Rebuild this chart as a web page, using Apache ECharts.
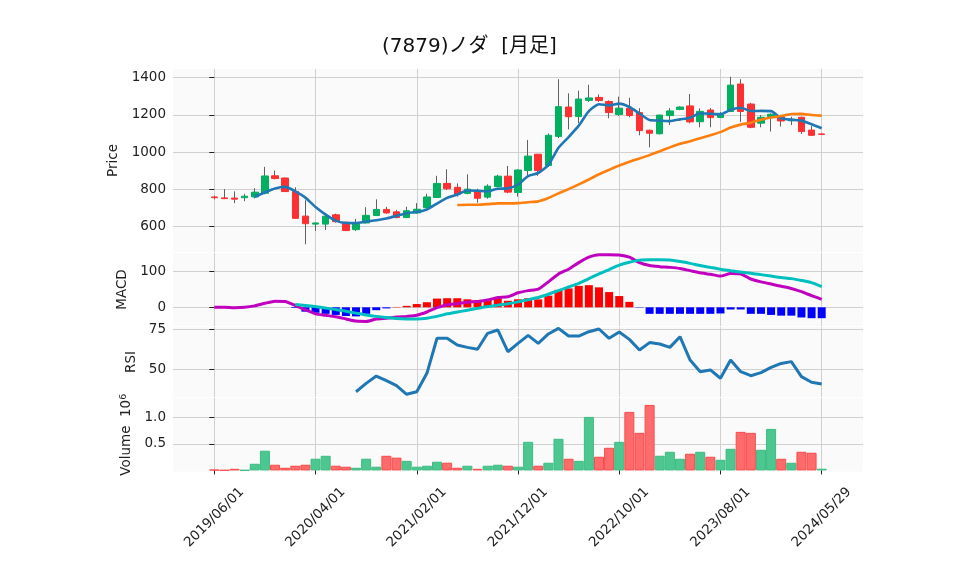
<!DOCTYPE html>
<html><head><meta charset="utf-8">
<script src="https://cdn.jsdelivr.net/npm/echarts@6/dist/echarts.min.js"></script>
<style>html,body{margin:0;padding:0;background:#fff}#c{width:958px;height:575px}</style>
</head><body><div id="c"></div>
<script>
// ---- data (monthly, index 0 = 2019/06) ----
const xTickPos = [0, 10, 20, 30, 40, 50, 60];
const xTickLabels = ['2019/06/01','2020/04/01','2021/02/01','2021/12/01','2022/10/01','2023/08/01','2024/05/29'];
const opens  = [758,753,752,754,758,778,872,860,788,655,612,612,662,622,582,618,658,691,678,647,672,700,755,831,810,777,787,757,814,870,782,900,988,927,1084,1242,1191,1278,1294,1272,1202,1236,1212,1117,1098,1196,1229,1248,1163,1226,1186,1218,1366,1258,1155,1191,1190,1168,1187,1118,1097];
const closes = [754,749,746,762,784,871,857,787,643,614,618,654,625,577,612,659,691,672,647,684,692,758,831,802,773,800,751,816,870,784,903,978,900,1090,1244,1190,1285,1291,1277,1212,1236,1196,1115,1101,1199,1221,1242,1162,1219,1185,1208,1360,1218,1133,1187,1203,1167,1177,1110,1090,1095];
const highs  = [765,800,788,775,805,920,900,862,810,740,620,656,668,625,640,703,745,705,688,705,725,775,872,907,831,880,802,826,878,925,907,1065,990,1100,1392,1316,1330,1362,1310,1278,1298,1292,1236,1120,1200,1236,1246,1312,1235,1236,1215,1405,1392,1265,1199,1208,1200,1190,1190,1140,1100];
const lows   = [745,748,725,735,750,772,853,785,640,503,575,580,620,575,575,616,655,668,643,645,668,698,752,795,760,772,727,749,810,778,760,875,872,920,1075,1122,1155,1270,1270,1182,1195,1187,1090,1025,1095,1145,1225,1155,1133,1133,1184,1215,1162,1128,1133,1110,1137,1145,1097,1088,1093];
const volumes = [0.015,0.005,0.03,0.005,0.125,0.37,0.107,0.05,0.088,0.107,
  0.22,0.275,0.088,0.07,0.05,0.22,0.07,0.275,0.24,0.18,
  0.07,0.088,0.163,0.145,0.05,0.088,0.03,0.088,0.107,0.088,
  0.07,0.537,0.088,0.144,0.594,0.219,0.18,1.005,0.257,0.425,
  0.537,1.099,0.706,1.23,0.276,0.35,0.219,0.313,0.35,0.257,
  0.2,0.406,0.724,0.706,0.388,0.78,0.219,0.144,0.35,0.332,0.032];
const ma5Start = 4;
const ma5 = [759,782.4,804,812.2,788.4,754.4,703.8,663.2,630.8,617.6,617.2,625.4,632.8,642.2,656.2,670.6,677.2,690.6,722.4,753.4,771.2,792.8,791.4,788.4,802,804.2,825,870.2,887,931,1023,1080.4,1141.8,1220,1257.4,1251,1260.2,1242.4,1207.2,1172,1169.4,1166.4,1175.6,1185,1208.6,1205.8,1203.2,1226.8,1238,1220.8,1221.2,1220.2,1181.6,1173.4,1168.8,1149.4,1127.8];
const ma25Start = 24;
const ma25 = [714.5,716.3,716.4,719.2,723.5,723.5,724.8,729.6,734.2,752.0,777.2,800.1,825.4,852.0,880.0,904.0,927.1,947.3,965.0,983.2,1003.8,1024.9,1044.3,1057.5,1074.2,1090.7,1107.0,1131.4,1147.4,1158.0,1174.1,1186.1,1193.6,1204.7,1205.5,1199.4,1195.6];
const macd = [0,0,-1,0,4,11,17,16,5,-7,-18,-22,-26,-32,-38,-39,-32,-30,-27,-25,-22,-13,-1,7,10,14,16,20,27,29,40,46,50,70,92,105,123,138,145,145,144,138,123,115,112,110,107,101,95,91,86,93,92,78,70,64,58,52,43,32,22];
const signalStart = 8;
const signal = [8,5,2,-2,-6,-11,-16,-21,-25,-28,-31,-32,-32,-30,-25,-18,-13,-8,-3,2,6,10,15,21,27,36,46,56,66,79,92,104,116,124,130,131,131,130,126,121,115,110,105,101,97,94,90,86,82,79,74,68,57];
const hist = [-2,-12,-15,-18,-21,-24,-25,-18,-8,-3,1,4,9,14,24,25,25,22,20,21,25,18,22,25,22,32,48,52,59,61,55,42,31,15,-1,-18,-18,-18,-18,-18,-18,-18,-17,-6,-6,-18,-18,-21,-23,-23,-28,-30,-30];
const rsiStart = 14;
const rsi = [35.8,41,45.6,42.7,39.6,34.2,35.8,47.3,69.2,69.2,65,63.5,62.3,72.3,74.4,60.8,66,71,66,71.9,75.4,70.6,70.6,73.3,75,69.2,73.1,68.5,61.9,66.5,65.6,63.5,70.2,55.6,48.3,49.4,44.2,55.6,48.3,45.8,47.7,51,53.5,54.6,45.2,41.7,40.6];
const priceTicks = [600,800,1000,1200,1400];
const macdTicks = [0,100];
const rsiTicks = [50,75];
const volTicks = [0.5,1.0];

// ---- styling ----
const FONT = "'DejaVu Sans','Noto Sans CJK JP',sans-serif";
const FS = 13.5;
const UP = '#00b060', DOWN = '#fe3032', WICK = '#606060';
const VUP = '#4dc790', VDOWN = '#fd6b6c';
const XMIN = -4.08, XMAX = 64.08;
const grids = [
  {left:173, right:95, top:69, height:183},
  {left:173, right:95, top:253, height:73},
  {left:173, right:95, top:327, height:70},
  {left:173, right:95, top:398, height:73.5}
].map(g => Object.assign(g, {show:true, backgroundColor:'#fafafa', borderWidth:0}));

function xAxis(idx, last) {
  return {
    type:'value', gridIndex:idx, min:XMIN, max:XMAX,
    axisLine:{show:false},
    axisTick:{show:last, length:4, lineStyle:{color:'#222'}, customValues:xTickPos},
    axisLabel:{show:last, customValues:xTickPos, rotate:45, align:'center', verticalAlign:'middle',
      fontFamily:FONT, fontSize:FS, color:'#222', margin:46,
      formatter:v => { const k = xTickPos.indexOf(Math.round(v)); return k >= 0 ? xTickLabels[k] : ''; }},
    splitLine:{show:true, lineStyle:{color:'#d0d0d0', width:1}}
  };
}
function yAxis(idx, min, max, ticks, name, gap, fmt) {
  return {
    type:'value', gridIndex:idx, min:min, max:max,
    axisLine:{show:false},
    axisTick:{show:true, length:5, lineStyle:{color:'#222'}, customValues:ticks},
    axisLabel:{customValues:ticks, fontFamily:FONT, fontSize:FS, color:'#222', margin:7, formatter:fmt || (v => String(v))},
    splitLine:{show:true, lineStyle:{color:'#d0d0d0', width:1}},
    name:name, nameLocation:'middle', nameGap:gap, nameRotate:90,
    nameTextStyle:{fontFamily:FONT, fontSize:FS, color:'#222',
      rich:{s:{fontFamily:FONT, fontSize:9.5, color:'#222', padding:[0,0,7,0]}, n:{fontFamily:FONT, fontSize:FS, color:'#222'}}}
  };
}
const pts = (arr, start) => arr.map((v, k) => [start + k, v]);

const candleWicks = opens.map((o, i) => [i, o, closes[i], lows[i], highs[i]]);
const candleBodies = opens.map((o, i) => [i, o, closes[i], Math.min(o, closes[i]), Math.max(o, closes[i])]);
const volData = volumes.map((v, i) => {
  const up = i === 0 ? closes[i] >= opens[i] : closes[i] >= closes[i-1];
  return {value:[i, v], itemStyle:{color: up ? VUP : VDOWN, borderColor: up ? '#3dbb82' : '#fb4a4b', borderWidth:1}};
});
const histData = hist.map((v, k) => ({value:[signalStart + k, v], itemStyle:{color: v >= 0 ? '#ff0000' : '#0000ff'}}));

const option = {
  animation:false,
  backgroundColor:'#ffffff',
  title:{text:'(7879)ノダ  [月足]', left:377, top:32, textStyle:{fontFamily:FONT, fontSize:20, fontWeight:'normal', color:'#111'}},
  grid:grids,
  xAxis:[xAxis(0,false), xAxis(1,false), xAxis(2,false), xAxis(3,true)],
  yAxis:[
    yAxis(0, 461.7, 1446.8, priceTicks, 'Price', 50),
    yAxis(1, -51.5, 149.6, macdTicks, 'MACD', 43),
    yAxis(2, 32.5, 76.25, rsiTicks, 'RSI', 35),
    yAxis(3, -0.02, 1.36, volTicks, '{n|Volume  10}{s|6}', 38, v => v.toFixed(1))
  ],
  series:[
    {type:'candlestick', xAxisIndex:0, yAxisIndex:0, data:candleWicks, encode:{x:0, y:[1,2,3,4]}, barWidth:1,
      itemStyle:{color:WICK, color0:WICK, borderColor:WICK, borderColor0:WICK, borderWidth:1}},
    {type:'candlestick', xAxisIndex:0, yAxisIndex:0, data:candleBodies, encode:{x:0, y:[1,2,3,4]}, barWidth:7,
      itemStyle:{color:UP, color0:DOWN, borderColor:UP, borderColor0:DOWN, borderWidth:1}},
    {type:'line', xAxisIndex:0, yAxisIndex:0, data:pts(ma5, ma5Start), symbol:'none', smooth:0.2,
      lineStyle:{color:'#1f77b4', width:2.6}},
    {type:'line', xAxisIndex:0, yAxisIndex:0, data:pts(ma25, ma25Start), symbol:'none', smooth:0.2,
      lineStyle:{color:'#ff7f0e', width:2.6}},
    {type:'bar', xAxisIndex:1, yAxisIndex:1, data:histData, barWidth:8},
    {type:'line', xAxisIndex:1, yAxisIndex:1, data:pts(macd, 0), symbol:'none', smooth:0.2,
      lineStyle:{color:'#bf00bf', width:3}},
    {type:'line', xAxisIndex:1, yAxisIndex:1, data:pts(signal, signalStart), symbol:'none', smooth:0.2,
      lineStyle:{color:'#00bfbf', width:3}},
    {type:'line', xAxisIndex:2, yAxisIndex:2, data:pts(rsi, rsiStart), symbol:'none',
      lineStyle:{color:'#1f77b4', width:3}},
    {type:'bar', xAxisIndex:3, yAxisIndex:3, data:volData, barWidth:10}
  ]
};
const chart = echarts.init(document.getElementById('c'), null, {renderer:'canvas'});
chart.setOption(option);
</script>
</body></html>
